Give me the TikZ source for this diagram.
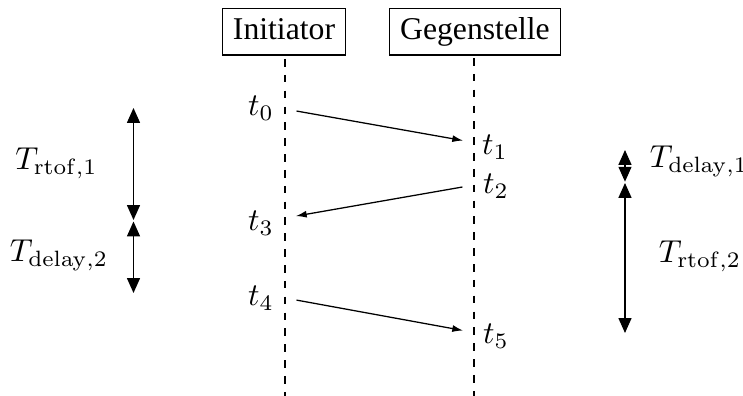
\documentclass[tikz,border=0pt]{standalone}
\usepackage[no-math]{fontspec}
\setmainfont{Liberation Serif}
\usetikzlibrary{arrows.meta}
\begin{document}
\begin{tikzpicture}[x=0.3155pt,y=-0.3155pt,
  actor/.style={draw,line width=0.4pt,inner xsep=3.3pt,inner ysep=2.8pt,text height=0.68em,text depth=0.22em,anchor=north},
  life/.style={line width=0.4pt,dash pattern=on 2.4pt off 2.6pt},
  msg/.style={line width=0.4pt,-{Latex[length=3.4pt,width=2.2pt]},shorten <=3.7pt,shorten >=3.5pt},
  span/.style={line width=0.4pt,{Triangle[width=4.1pt,length=4.7pt]}-{Triangle[width=4.1pt,length=4.7pt]}},
  lbl/.style={inner sep=0pt}]
\useasboundingbox (0,0) rectangle (743,396);
% actors
\node[actor] (ini) at (284,8) {Initiator};
\node[actor] (geg) at (475,8) {Gegenstelle};
% lifelines
\coordinate (iniTop) at (285,59);
\coordinate (iniBot) at (285,396);
\coordinate (gegTop) at (474,58);
\coordinate (gegBot) at (474,396);
\draw[life] (iniTop) -- (iniBot);
\draw[life] (gegTop) -- (gegBot);
% message points
\coordinate (a0) at (285,109);
\coordinate (b1) at (474,142.5);
\coordinate (b2) at (474,185);
\coordinate (a3) at (285,218);
\coordinate (a4) at (285,298);
\coordinate (b5) at (474,332.5);
\draw[msg] (a0) -- (b1);
\draw[msg] (b2) -- (a3);
\draw[msg] (a4) -- (b5);
% time labels
\node[lbl] (t0) at (261,108) {$t_0$};
\node[lbl] (t1) at (495,147) {$t_1$};
\node[lbl] (t2) at (496,186) {$t_2$};
\node[lbl] (t3) at (261,223) {$t_3$};
\node[lbl] (t4) at (261,298) {$t_4$};
\node[lbl] (t5) at (496,336) {$t_5$};
% left spans
\coordinate (l0) at (133.5,108);
\coordinate (l1) at (133.5,220);
\coordinate (l2) at (133.5,221.5);
\coordinate (l3) at (133.5,293);
\draw[span] (l0) -- (l1);
\draw[span] (l2) -- (l3);
\node[lbl] (trtof1) at (56.5,163) {$T_{\mathrm{rtof},1}$};
\node[lbl] (tdelay2) at (59,255) {$T_{\mathrm{delay},2}$};
% right spans
\coordinate (r0) at (625,150);
\coordinate (r1) at (625,181.7);
\coordinate (r2) at (625,183);
\coordinate (r3) at (625,333);
\draw[span] (r0) -- (r1);
\draw[span] (r2) -- (r3);
\node[lbl] (tdelay1) at (699,161.5) {$T_{\mathrm{delay},1}$};
\node[lbl] (trtof2) at (700,256.7) {$T_{\mathrm{rtof},2}$};
\end{tikzpicture}
\end{document}
